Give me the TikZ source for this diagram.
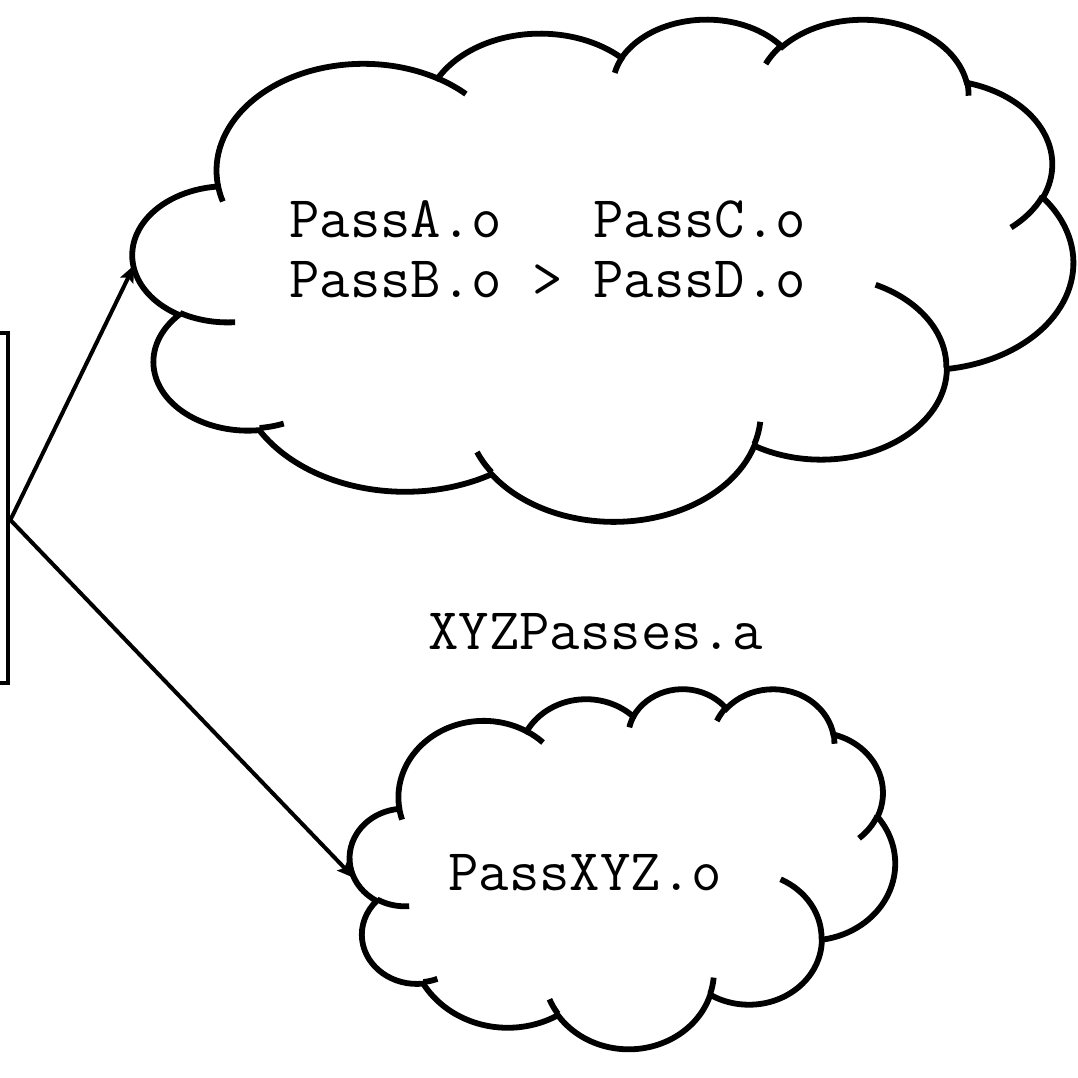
\documentclass[tikz,border=0pt]{standalone}
\usetikzlibrary{arrows.meta}

% one lobe of the cloud: radii, start angle and sweep (visual angles)
\tikzset{
  lobe/.code n args={4}{%
    \pgfmathsetmacro\lobeS{atan2(#1*sin(#3),#2*cos(#3))}%
    \pgfmathsetmacro\lobeE{atan2(#1*sin(#3+#4),#2*cos(#3+#4))}%
    \pgfmathsetmacro\lobeD{mod(\lobeE-\lobeS+720,360)}%
    \pgfkeysalso{x radius=#1, y radius=#2, start angle/.expanded=\lobeS, delta angle/.expanded=\lobeD}%
  }
}

% cloud in a 432 x 432 box, y pointing down
\newcommand{\cloudoutline}{%
  \draw[cloudline, fill=white] (39.00,143.70)
    arc[lobe={67.53}{91.90}{-190.48748}{123.78053}]
    arc[lobe={53.33}{72.67}{-144.10238}{89.94523}]
    arc[lobe={43.65}{59.45}{-145.80792}{99.72302}]
    arc[lobe={48.57}{65.95}{-130.98607}{117.24173}]
    arc[lobe={53.33}{72.73}{-78.70888}{109.02692}]
    arc[lobe={67.75}{92.20}{-46.26725}{130.26900}]
    arc[lobe={57.85}{78.67}{0.62502}{114.03333}]
    arc[lobe={67.52}{92.15}{22.45160}{115.17255}]
    arc[lobe={77.20}{105.43}{66.24263}{75.71102}]
    arc[lobe={43.60}{59.18}{-274.94208}{146.73557}]
    arc[lobe={43.45}{59.45}{-246.82850}{152.51885}]
    -- cycle;
  % inner ends of the lobes
  \draw[cloudline] (46.93,261.77) arc[lobe={43.45}{59.45}{86.74200}{26.42950}];
  \draw[cloudline] (69.28,348.99) arc[lobe={43.60}{59.18}{73.61047}{11.44747}];
  \draw[cloudline] (164.78,390.90) arc[lobe={67.52}{92.15}{137.62415}{14.08110}];
  \draw[cloudline] (288.27,347.51) arc[lobe={67.52}{92.15}{6.45327}{15.99835}];
  \draw[cloudline] (341.29,229.54) arc[lobe={57.85}{78.67}{-70.29235}{70.91737}];
  \draw[cloudline] (417.98,153.54) arc[lobe={53.33}{72.73}{30.31803}{27.75150}];
  \draw[cloudline] (383.24,54.26) arc[lobe={48.57}{65.95}{-13.74433}{14.85890}];
  \draw[cloudline] (290.78,39.52) arc[lobe={48.57}{65.95}{-149.18145}{18.19537}];
  \draw[cloudline] (221.41,47.20) arc[lobe={43.65}{59.45}{-163.49427}{17.68635}];
  \draw[cloudline] (140.00,51.92) arc[lobe={67.53}{91.90}{-66.70695}{12.31935}];
  \draw[cloudline] (41.27,157.89) arc[lobe={67.53}{91.90}{157.65435}{11.85817}];
}

\begin{document}
\begin{tikzpicture}[x=0.5pt, y=-0.5pt,
    cloudline/.style={line width=2.9pt},
    libbox/.style={draw, line width=2.4pt, minimum width=50pt, minimum height=175pt},
    filetext/.style={font=\fontsize{29.5}{30}\selectfont\ttfamily, inner sep=0pt, anchor=base west},
    link/.style={line width=2pt, -{Stealth[length=8.5pt, width=7pt, inset=1.5pt]}}]
  \useasboundingbox (0,0) rectangle (1078,1078);

  % archive box, cut by the left edge
  \node[libbox] (lib) at (-42,508) {};
  \node[filetext] (archive) at (428,649) {XYZPasses.a};

  % cloud of the separate passes
  \begin{scope}[shift={(133,18)}, x=1.08796pt, y=-0.58102pt]
    \cloudoutline
    \coordinate (passesW) at (0.6,212.6);
  \end{scope}
  \node[filetext] (passAC) at (289,237) {PassA.o\ \ \ PassC.o};
  \node[filetext] (passBD) at (289,297) {PassB.o > PassD.o};

  % cloud of the merged pass
  \begin{scope}[shift={(350,688)}, x=0.63079pt, y=-0.41667pt]
    \cloudoutline
    \coordinate (xyzW) at (3.3,228);
  \end{scope}
  \node[filetext] (passXYZ) at (448,890) {PassXYZ.o};

  \draw[link] ([yshift=-6pt]lib.east) -- (passesW);
  \draw[link] ([yshift=-6pt]lib.east) -- (xyzW);
\end{tikzpicture}
\end{document}
